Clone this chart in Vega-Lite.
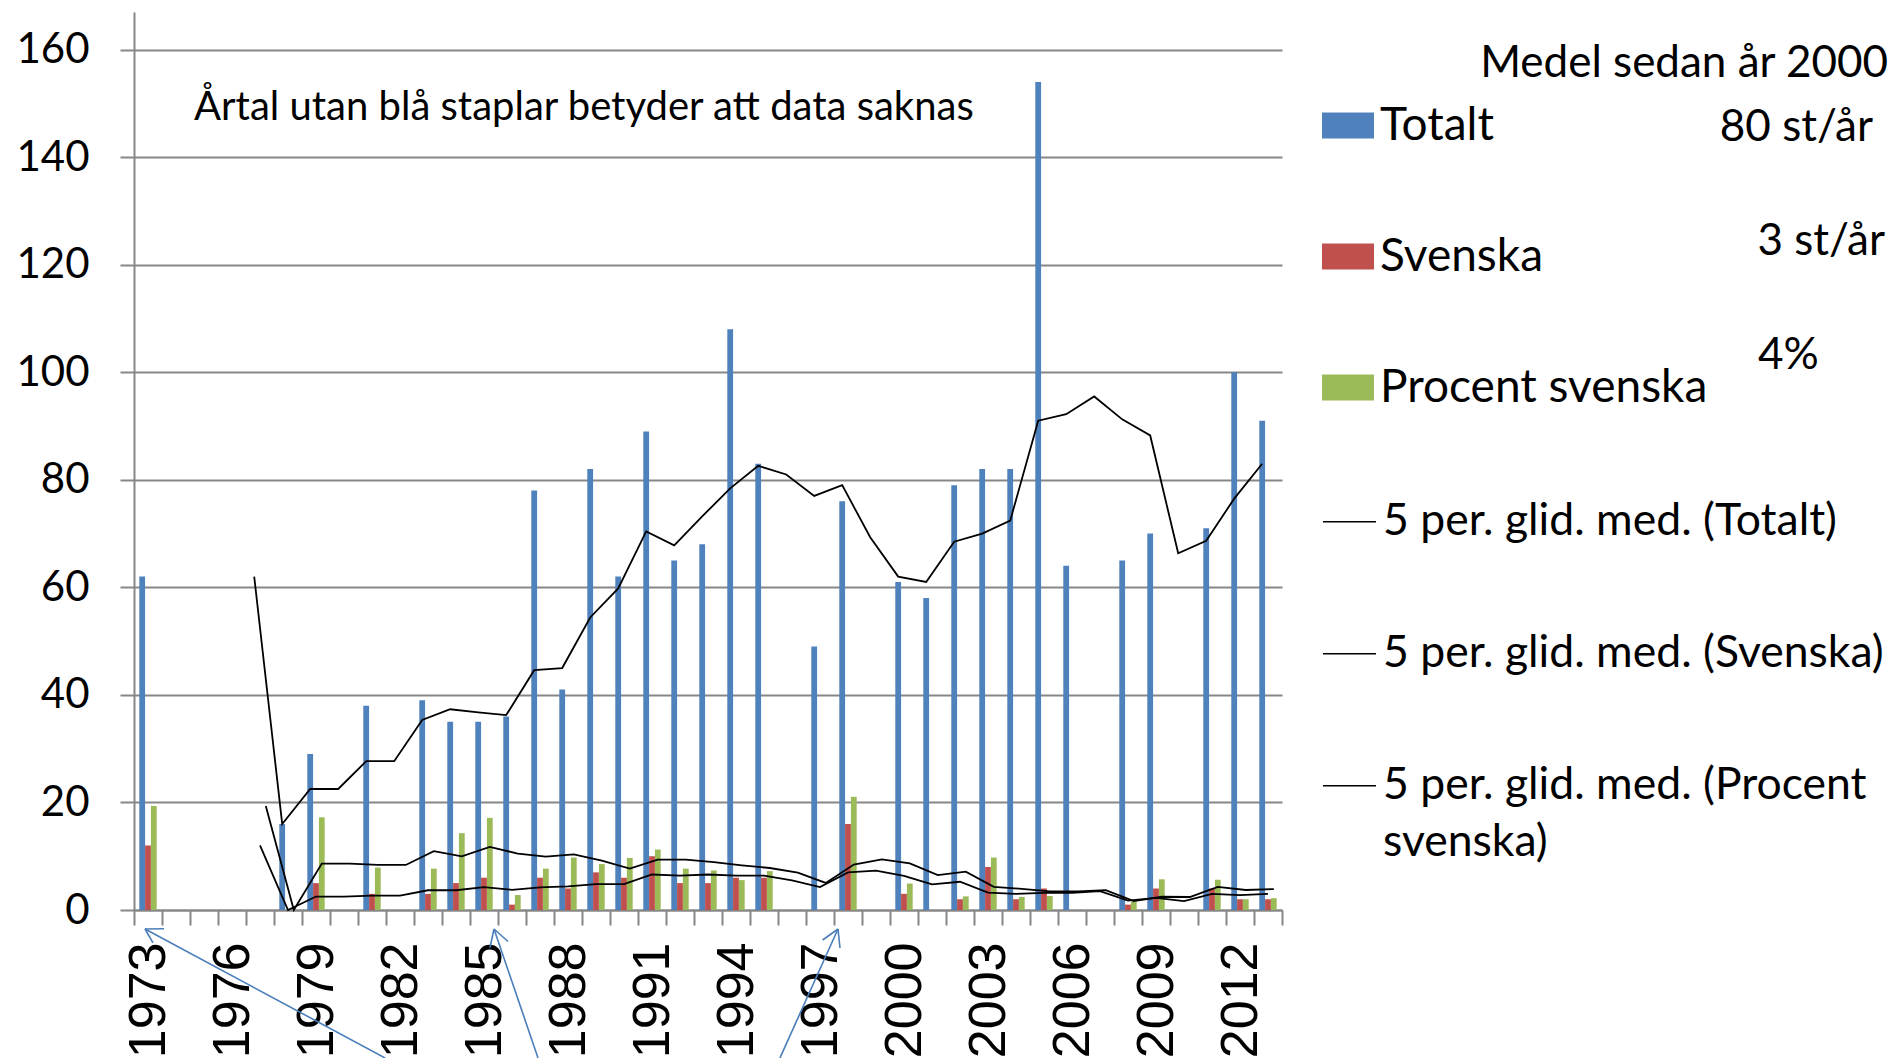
{
  "$schema": "https://vega.github.io/schema/vega-lite/v6.json",
  "width": 1148,
  "height": 898,
  "autosize": {"type": "none"},
  "padding": {"left": 134, "top": 12, "right": 615, "bottom": 148},
  "background": "white",
  "config": {
    "view": {"stroke": null},
    "axis": {"domainColor": "#878787", "domainWidth": 2, "tickColor": "#878787", "tickWidth": 2, "gridColor": "#878787", "gridWidth": 2, "labelColor": "black"},
    "style": {"guide-label": {"lineHeight": 57}}
  },
  "layer": [
    {
      "data": {"values": [
        {"year": 1973, "Totalt": 62, "Svenska": 12, "Procent": 19.35, "ma_tot": null, "ma_sv": null, "ma_pct": null},
        {"year": 1974, "Totalt": null, "Svenska": null, "Procent": null, "ma_tot": null, "ma_sv": null, "ma_pct": null},
        {"year": 1975, "Totalt": null, "Svenska": null, "Procent": null, "ma_tot": null, "ma_sv": null, "ma_pct": null},
        {"year": 1976, "Totalt": null, "Svenska": null, "Procent": null, "ma_tot": null, "ma_sv": null, "ma_pct": null},
        {"year": 1977, "Totalt": null, "Svenska": null, "Procent": null, "ma_tot": 62, "ma_sv": 12, "ma_pct": 19.35},
        {"year": 1978, "Totalt": 16, "Svenska": 0, "Procent": 0, "ma_tot": 16, "ma_sv": 0, "ma_pct": 0},
        {"year": 1979, "Totalt": 29, "Svenska": 5, "Procent": 17.24, "ma_tot": 22.5, "ma_sv": 2.5, "ma_pct": 8.62},
        {"year": 1980, "Totalt": null, "Svenska": null, "Procent": null, "ma_tot": 22.5, "ma_sv": 2.5, "ma_pct": 8.62},
        {"year": 1981, "Totalt": 38, "Svenska": 3, "Procent": 7.89, "ma_tot": 27.67, "ma_sv": 2.67, "ma_pct": 8.38},
        {"year": 1982, "Totalt": null, "Svenska": null, "Procent": null, "ma_tot": 27.67, "ma_sv": 2.67, "ma_pct": 8.38},
        {"year": 1983, "Totalt": 39, "Svenska": 3, "Procent": 7.69, "ma_tot": 35.33, "ma_sv": 3.67, "ma_pct": 10.94},
        {"year": 1984, "Totalt": 35, "Svenska": 5, "Procent": 14.29, "ma_tot": 37.33, "ma_sv": 3.67, "ma_pct": 9.96},
        {"year": 1985, "Totalt": 35, "Svenska": 6, "Procent": 17.14, "ma_tot": 36.75, "ma_sv": 4.25, "ma_pct": 11.75},
        {"year": 1986, "Totalt": 36, "Svenska": 1, "Procent": 2.78, "ma_tot": 36.25, "ma_sv": 3.75, "ma_pct": 10.48},
        {"year": 1987, "Totalt": 78, "Svenska": 6, "Procent": 7.69, "ma_tot": 44.6, "ma_sv": 4.2, "ma_pct": 9.92},
        {"year": 1988, "Totalt": 41, "Svenska": 4, "Procent": 9.76, "ma_tot": 45, "ma_sv": 4.4, "ma_pct": 10.33},
        {"year": 1989, "Totalt": 82, "Svenska": 7, "Procent": 8.54, "ma_tot": 54.4, "ma_sv": 4.8, "ma_pct": 9.18},
        {"year": 1990, "Totalt": 62, "Svenska": 6, "Procent": 9.68, "ma_tot": 59.8, "ma_sv": 4.8, "ma_pct": 7.69},
        {"year": 1991, "Totalt": 89, "Svenska": 10, "Procent": 11.24, "ma_tot": 70.4, "ma_sv": 6.6, "ma_pct": 9.38},
        {"year": 1992, "Totalt": 65, "Svenska": 5, "Procent": 7.69, "ma_tot": 67.8, "ma_sv": 6.4, "ma_pct": 9.38},
        {"year": 1993, "Totalt": 68, "Svenska": 5, "Procent": 7.35, "ma_tot": 73.2, "ma_sv": 6.6, "ma_pct": 8.9},
        {"year": 1994, "Totalt": 108, "Svenska": 6, "Procent": 5.56, "ma_tot": 78.4, "ma_sv": 6.4, "ma_pct": 8.3},
        {"year": 1995, "Totalt": 83, "Svenska": 6, "Procent": 7.23, "ma_tot": 82.6, "ma_sv": 6.4, "ma_pct": 7.81},
        {"year": 1996, "Totalt": null, "Svenska": null, "Procent": null, "ma_tot": 81, "ma_sv": 5.5, "ma_pct": 6.96},
        {"year": 1997, "Totalt": 49, "Svenska": 0, "Procent": 0, "ma_tot": 77, "ma_sv": 4.25, "ma_pct": 5.04},
        {"year": 1998, "Totalt": 76, "Svenska": 16, "Procent": 21.05, "ma_tot": 79, "ma_sv": 7, "ma_pct": 8.46},
        {"year": 1999, "Totalt": null, "Svenska": null, "Procent": null, "ma_tot": 69.33, "ma_sv": 7.33, "ma_pct": 9.43},
        {"year": 2000, "Totalt": 61, "Svenska": 3, "Procent": 4.92, "ma_tot": 62, "ma_sv": 6.33, "ma_pct": 8.66},
        {"year": 2001, "Totalt": 58, "Svenska": 0, "Procent": 0, "ma_tot": 61, "ma_sv": 4.75, "ma_pct": 6.49},
        {"year": 2002, "Totalt": 79, "Svenska": 2, "Procent": 2.53, "ma_tot": 68.5, "ma_sv": 5.25, "ma_pct": 7.13},
        {"year": 2003, "Totalt": 82, "Svenska": 8, "Procent": 9.76, "ma_tot": 70, "ma_sv": 3.25, "ma_pct": 4.3},
        {"year": 2004, "Totalt": 82, "Svenska": 2, "Procent": 2.44, "ma_tot": 72.4, "ma_sv": 3, "ma_pct": 3.93},
        {"year": 2005, "Totalt": 154, "Svenska": 4, "Procent": 2.6, "ma_tot": 91, "ma_sv": 3.2, "ma_pct": 3.47},
        {"year": 2006, "Totalt": 64, "Svenska": 0, "Procent": 0, "ma_tot": 92.2, "ma_sv": 3.2, "ma_pct": 3.47},
        {"year": 2007, "Totalt": null, "Svenska": null, "Procent": null, "ma_tot": 95.5, "ma_sv": 3.5, "ma_pct": 3.7},
        {"year": 2008, "Totalt": 65, "Svenska": 1, "Procent": 1.54, "ma_tot": 91.25, "ma_sv": 1.75, "ma_pct": 1.65},
        {"year": 2009, "Totalt": 70, "Svenska": 4, "Procent": 5.71, "ma_tot": 88.25, "ma_sv": 2.25, "ma_pct": 2.46},
        {"year": 2010, "Totalt": null, "Svenska": null, "Procent": null, "ma_tot": 66.33, "ma_sv": 1.67, "ma_pct": 2.42},
        {"year": 2011, "Totalt": 71, "Svenska": 4, "Procent": 5.63, "ma_tot": 68.67, "ma_sv": 3, "ma_pct": 4.29},
        {"year": 2012, "Totalt": 100, "Svenska": 2, "Procent": 2.0, "ma_tot": 76.5, "ma_sv": 2.75, "ma_pct": 3.72},
        {"year": 2013, "Totalt": 91, "Svenska": 2, "Procent": 2.2, "ma_tot": 83, "ma_sv": 3, "ma_pct": 3.89}
      ]},
      "encoding": {
        "x": {
          "field": "year", "type": "ordinal", "title": null,
          "scale": {"paddingInner": 0, "paddingOuter": 0},
          "axis": {
            "labelAngle": -90, "labelFont": "Liberation Sans", "labelFontSize": 52, "labelPadding": 17,
            "tickSize": 15, "tickBand": "extent", "labelOverlap": false, "labelBound": false,
            "labelExpr": "(datum.value - 1973) % 3 == 0 ? datum.label : ''", "grid": false
          }
        }
      },
      "layer": [
        {
          "mark": {"type": "bar", "width": 5.8, "xOffset": -5.8},
          "encoding": {
            "y": {"field": "Totalt", "type": "quantitative", "title": null,
              "scale": {"domain": [0, 167], "nice": false},
              "axis": {"values": [0, 20, 40, 60, 80, 100, 120, 140, 160], "labelFont": "Lato", "labelFontSize": 42, "labelPadding": 31, "tickSize": 14, "grid": true}},
            "color": {"datum": "Totalt", "type": "nominal",
              "scale": {"domain": ["Totalt", "Svenska", "Procent svenska"], "range": ["#4f81bd", "#c0504d", "#9bbb59"]},
              "legend": {"orient": "none", "legendX": 1188, "legendY": 88.5, "title": null, "padding": 0,
                "symbolType": "M-1,-0.5H1V0.5H-1Z", "symbolSize": 2704, "symbolStrokeWidth": 0,
                "labelFont": "Lato", "labelFontSize": 46, "labelColor": "black", "labelOffset": 6, "labelLimit": 700,
                "rowPadding": 81, "clipHeight": 50}}
          }
        },
        {
          "mark": {"type": "bar", "width": 5.8, "xOffset": 0},
          "encoding": {
            "y": {"field": "Svenska", "type": "quantitative", "title": null, "scale": {"domain": [0, 167], "nice": false}},
            "color": {"datum": "Svenska", "type": "nominal"}
          }
        },
        {
          "mark": {"type": "bar", "width": 5.8, "xOffset": 5.8},
          "encoding": {
            "y": {"field": "Procent", "type": "quantitative", "title": null, "scale": {"domain": [0, 167], "nice": false}},
            "color": {"datum": "Procent svenska", "type": "nominal"}
          }
        },
        {
          "mark": {"type": "line", "strokeWidth": 1.8, "xOffset": -5.8},
          "encoding": {
            "y": {"field": "ma_tot", "type": "quantitative", "title": null, "scale": {"domain": [0, 167], "nice": false}},
            "stroke": {"datum": "5 per. glid. med. (Totalt)", "type": "nominal",
              "scale": {"domain": ["5 per. glid. med. (Totalt)", "5 per. glid. med. (Svenska)", "5 per. glid. med. (Procent svenska)"], "range": ["black", "black", "black"]},
              "legend": {"orient": "none", "legendX": 1188, "legendY": 484.7, "title": null, "padding": 0,
                "symbolType": "stroke", "symbolSize": 2809, "symbolStrokeWidth": 1.5,
                "labelFont": "Lato", "labelFontSize": 44.5, "labelColor": "black", "labelOffset": 6, "labelLimit": 700,
                "rowPadding": 82, "clipHeight": 50,
                "labelExpr": "datum.label == '5 per. glid. med. (Procent svenska)' ? ['5 per. glid. med. (Procent', 'svenska)'] : datum.label"}}
          }
        },
        {
          "mark": {"type": "line", "strokeWidth": 1.8, "xOffset": 0},
          "encoding": {
            "y": {"field": "ma_sv", "type": "quantitative", "title": null, "scale": {"domain": [0, 167], "nice": false}},
            "stroke": {"datum": "5 per. glid. med. (Svenska)", "type": "nominal"}
          }
        },
        {
          "mark": {"type": "line", "strokeWidth": 1.8, "xOffset": 5.8},
          "encoding": {
            "y": {"field": "ma_pct", "type": "quantitative", "title": null, "scale": {"domain": [0, 167], "nice": false}},
            "stroke": {"datum": "5 per. glid. med. (Procent svenska)", "type": "nominal"}
          }
        },
        {
          "data": {"values": [{"t": "Årtal utan blå staplar betyder att data saknas"}]},
          "mark": {"type": "text", "font": "Lato", "fontSize": 40, "align": "left", "baseline": "alphabetic", "dx": -10, "color": "black"},
          "encoding": {
            "x": {"datum": 1975, "type": "ordinal"},
            "y": {"datum": 146.9, "type": "quantitative", "scale": {"domain": [0, 167], "nice": false}},
            "text": {"field": "t"}
          }
        },
        {
          "data": {"values": [{"t": "Medel sedan år 2000"}]},
          "mark": {"type": "text", "font": "Lato", "fontSize": 44, "align": "right", "baseline": "alphabetic", "dx": 620, "color": "black"},
          "encoding": {
            "x": {"datum": 2013, "type": "ordinal"},
            "y": {"datum": 154.9, "type": "quantitative", "scale": {"domain": [0, 167], "nice": false}},
            "text": {"field": "t"}
          }
        },
        {
          "data": {"values": [{"t": "80 st/år"}]},
          "mark": {"type": "text", "font": "Lato", "fontSize": 44, "align": "right", "baseline": "alphabetic", "dx": 605, "color": "black"},
          "encoding": {
            "x": {"datum": 2013, "type": "ordinal"},
            "y": {"datum": 143.1, "type": "quantitative", "scale": {"domain": [0, 167], "nice": false}},
            "text": {"field": "t"}
          }
        },
        {
          "data": {"values": [{"t": "3 st/år"}]},
          "mark": {"type": "text", "font": "Lato", "fontSize": 44, "align": "right", "baseline": "alphabetic", "dx": 617, "color": "black"},
          "encoding": {
            "x": {"datum": 2013, "type": "ordinal"},
            "y": {"datum": 121.8, "type": "quantitative", "scale": {"domain": [0, 167], "nice": false}},
            "text": {"field": "t"}
          }
        },
        {
          "data": {"values": [{"t": "4%"}]},
          "mark": {"type": "text", "font": "Lato", "fontSize": 44, "align": "left", "baseline": "alphabetic", "dx": 490, "color": "black"},
          "encoding": {
            "x": {"datum": 2013, "type": "ordinal"},
            "y": {"datum": 100.6, "type": "quantitative", "scale": {"domain": [0, 167], "nice": false}},
            "text": {"field": "t"}
          }
        }
      ]
    },
    {
      "data": {"values": [
        {"x": 1972.893, "y": -3.53, "x2": 1981.464, "y2": -27.51},
        {"x": 1972.893, "y": -3.53, "x2": 1973.571, "y2": -3.48},
        {"x": 1972.893, "y": -3.53, "x2": 1973.179, "y2": -6.13},
        {"x": 1985.357, "y": -3.53, "x2": 1986.929, "y2": -27.51},
        {"x": 1985.357, "y": -3.53, "x2": 1985.857, "y2": -5.86},
        {"x": 1985.357, "y": -3.53, "x2": 1985.214, "y2": -6.99},
        {"x": 1997.643, "y": -3.53, "x2": 1995.571, "y2": -27.51},
        {"x": 1997.643, "y": -3.53, "x2": 1997.714, "y2": -7.06},
        {"x": 1997.643, "y": -3.53, "x2": 1997.093, "y2": -5.58}
      ]},
      "mark": {"type": "rule", "color": "#4a7ebb", "strokeWidth": 1.6},
      "encoding": {
        "x": {"field": "x", "type": "quantitative", "scale": {"domain": [1972.5, 2013.5], "nice": false, "zero": false}, "axis": null},
        "x2": {"field": "x2"},
        "y": {"field": "y", "type": "quantitative", "title": null, "scale": {"domain": [0, 167], "nice": false}},
        "y2": {"field": "y2"}
      }
    }
  ],
  "resolve": {"scale": {"x": "independent"}}
}
